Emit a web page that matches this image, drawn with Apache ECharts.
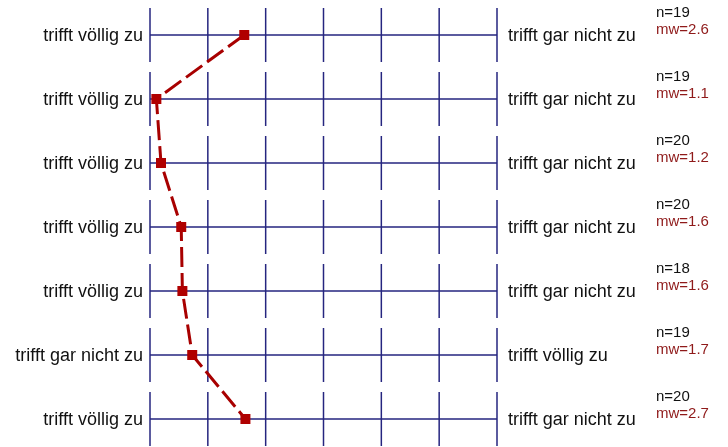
<!DOCTYPE html>
<html>
<head>
<meta charset="utf-8">
<script src="https://cdn.jsdelivr.net/npm/echarts@6/dist/echarts.min.js"></script>
<style>
  html, body { margin: 0; padding: 0; background: #fff; }
  #chart { width: 728px; height: 447px; }
</style>
</head>
<body>
<div id="chart"></div>
<script>
// one row per item, top to bottom
const leftLabels = ['trifft völlig zu', 'trifft völlig zu', 'trifft völlig zu', 'trifft völlig zu',
  'trifft völlig zu', 'trifft gar nicht zu', 'trifft völlig zu'];
const rightLabels = ['trifft gar nicht zu', 'trifft gar nicht zu', 'trifft gar nicht zu', 'trifft gar nicht zu',
  'trifft gar nicht zu', 'trifft völlig zu', 'trifft gar nicht zu'];
const nValues = [19, 19, 20, 20, 18, 19, 20];
const mwLabels = ['2.6', '1.1', '1.2', '1.6', '1.6', '1.7', '2.7'];
// plotted means (positions)
const meanValues = [2.63, 1.11, 1.19, 1.54, 1.56, 1.73, 2.65];
const scaleTicks = [1, 2, 3, 4, 5, 6, 7];

const FONT = '"Liberation Sans", Arial, sans-serif';
const gridColor = '#25257f';

const chart = echarts.init(document.getElementById('chart'));

const rows = leftLabels.map((_, i) => [1, i + 1]);

function renderRow(params, api) {
  const i = params.dataIndex;
  const row = api.value(1);
  const first = scaleTicks[0];
  const last = scaleTicks[scaleTicks.length - 1];
  const left = api.coord([first, row]);
  const right = api.coord([last, row]);
  const half = 27;
  const children = [];
  // horizontal line of the scale
  children.push({
    type: 'line',
    shape: { x1: left[0], y1: left[1], x2: right[0], y2: right[1] },
    style: { stroke: gridColor, lineWidth: 1.5 }
  });
  // vertical tick segments
  scaleTicks.forEach(t => {
    const p = api.coord([t, row]);
    children.push({
      type: 'line',
      shape: { x1: p[0], y1: p[1] - half, x2: p[0], y2: p[1] + half },
      style: { stroke: gridColor, lineWidth: 1.5 }
    });
  });
  children.push({
    type: 'text',
    style: {
      x: left[0] - 7, y: left[1] + 1, text: leftLabels[i],
      fill: '#111', font: '18px ' + FONT, align: 'right', verticalAlign: 'middle'
    }
  });
  children.push({
    type: 'text',
    style: {
      x: right[0] + 11, y: right[1] + 1, text: rightLabels[i],
      fill: '#111', font: '18px ' + FONT, align: 'left', verticalAlign: 'middle'
    }
  });
  children.push({
    type: 'text',
    style: {
      x: right[0] + 159, y: right[1] - 22, text: 'n=' + nValues[i],
      fill: '#111', font: '15px ' + FONT, align: 'left', verticalAlign: 'middle'
    }
  });
  children.push({
    type: 'text',
    style: {
      x: right[0] + 159, y: right[1] - 5, text: 'mw=' + mwLabels[i],
      fill: '#8f1a1a', font: '15px ' + FONT, align: 'left', verticalAlign: 'middle'
    }
  });
  return { type: 'group', children: children };
}

const option = {
  animation: false,
  backgroundColor: '#fff',
  grid: { left: 150, width: 347, top: 3, height: 448, outerBoundsMode: 'none' },
  xAxis: { type: 'value', min: 1, max: 7, show: false },
  yAxis: { type: 'value', min: 0.5, max: 7.5, inverse: true, show: false },
  series: [
    {
      type: 'custom',
      silent: true,
      clip: false,
      data: rows,
      encode: { x: 0, y: 1 },
      renderItem: renderRow,
      z: 1
    },
    {
      type: 'line',
      data: meanValues.map((v, i) => [v, i + 1]),
      symbol: 'rect',
      symbolSize: 10,
      showSymbol: true,
      lineStyle: { color: '#a80000', width: 3, type: [20, 6] },
      itemStyle: { color: '#b00000' },
      z: 3
    }
  ]
};

chart.setOption(option);
</script>
</body>
</html>
